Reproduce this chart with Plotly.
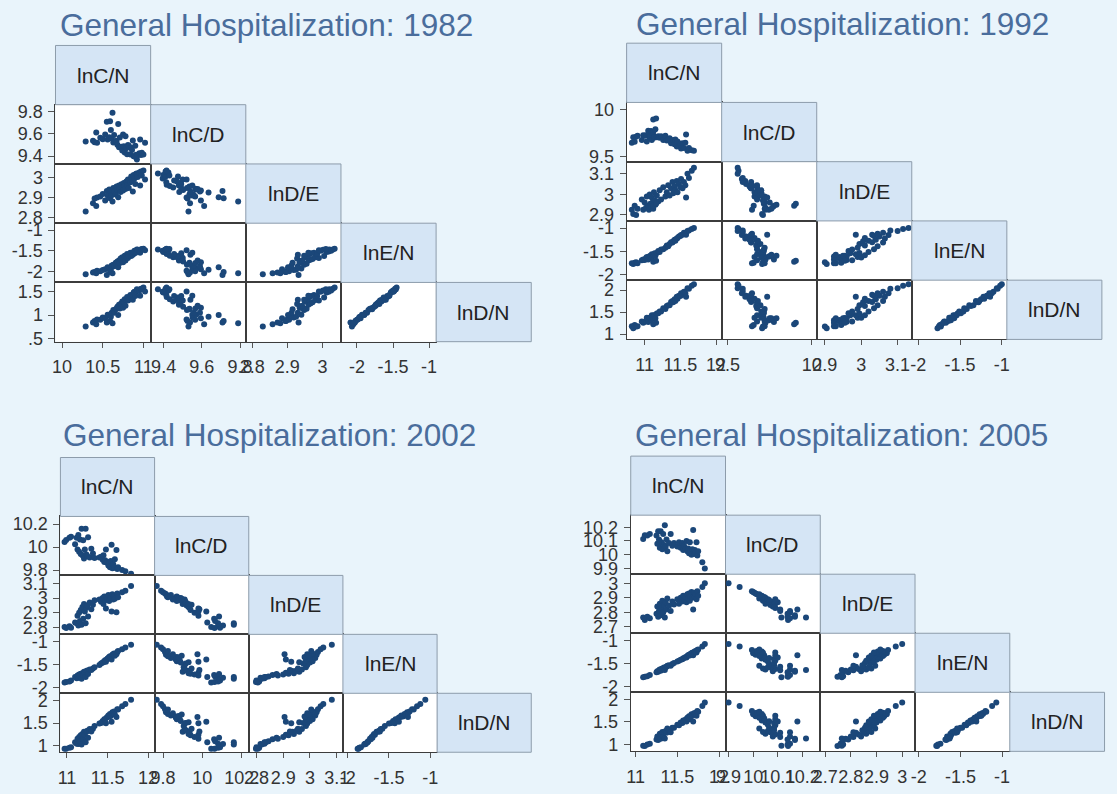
import plotly.graph_objects as go

FIG_W, FIG_H = 1117, 794
VARS = ["lnC/N", "lnC/D", "lnD/E", "lnE/N", "lnD/N"]

# ---- state-level observations, one entry per state ----
# 1982
cn_1982 = [10.29, 10.38, 10.40, 10.42, 10.43, 10.47, 10.50, 10.53, 10.55, 10.56,
           10.58, 10.59, 10.60, 10.61, 10.62, 10.63, 10.64, 10.66, 10.67, 10.68,
           10.69, 10.70, 10.71, 10.72, 10.73, 10.74, 10.75, 10.76, 10.77, 10.78,
           10.79, 10.80, 10.81, 10.82, 10.84, 10.85, 10.86, 10.87, 10.88, 10.89,
           10.90, 10.91, 10.92, 10.93, 10.95, 10.96, 10.97, 10.98, 11.00, 11.02]
de_1982 = [2.830, 2.872, 2.895, 2.858, 2.900, 2.905, 2.918, 2.885, 2.932, 2.910,
           2.940, 2.896, 2.925, 2.912, 2.880, 2.948, 2.930, 2.915, 2.955, 2.938,
           2.902, 2.960, 2.944, 2.928, 2.966, 2.950, 2.935, 2.972, 2.958, 2.942,
           2.980, 2.964, 2.990, 2.948, 2.976, 3.005, 2.985, 2.930, 3.012, 2.995,
           2.968, 3.018, 3.020, 3.002, 3.025, 2.960, 3.030, 3.010, 3.035, 2.990]
en_1982 = [-2.07, -2.03, -2.02, -2.05, -1.99, -2.00, -1.97, -1.95, -2.09, -1.90,
           -1.93, -2.02, -1.96, -1.86, -2.05, -1.84, -1.88, -1.79, -1.82, -1.76,
           -1.90, -1.74, -1.80, -1.69, -1.72, -1.66, -1.78, -1.70, -1.62, -1.74,
           -1.66, -1.58, -1.68, -1.62, -1.55, -1.63, -1.58, -1.60, -1.53, -1.50,
           -1.56, -1.52, -1.47, -1.48, -1.50, -1.55, -1.47, -1.46, -1.45, -1.49]

# 1992
cn_1992 = [10.82, 10.84, 10.86, 10.88, 10.90, 10.96, 10.98, 11.00, 11.02, 11.03,
           11.05, 11.06, 11.07, 11.08, 11.09, 11.10, 11.11, 11.12, 11.13, 11.14,
           11.15, 11.17, 11.19, 11.21, 11.23, 11.26, 11.29, 11.31, 11.33, 11.35,
           11.37, 11.39, 11.40, 11.42, 11.43, 11.45, 11.46, 11.48, 11.50, 11.51,
           11.53, 11.55, 11.57, 11.58, 11.60, 11.62, 11.66, 11.69, 11.12, 11.16]
de_1992 = [2.925, 2.905, 2.945, 2.900, 2.930, 2.975, 2.925, 2.960, 2.935, 2.990,
           2.945, 2.925, 3.000, 2.955, 2.940, 2.985, 2.960, 2.930, 3.010, 2.970,
           2.950, 2.995, 2.965, 3.020, 2.975, 3.035, 2.990, 3.010, 3.045, 2.995,
           3.030, 3.060, 3.005, 3.040, 3.020, 3.065, 3.010, 3.050, 3.035, 3.075,
           3.030, 3.060, 3.045, 2.985, 3.100, 3.080, 3.115, 3.130, 2.945, 2.955]
en_1992 = [-1.75, -1.77, -1.74, -1.73, -1.75, -1.69, -1.67, -1.68, -1.64, -1.62,
           -1.67, -1.61, -1.63, -1.59, -1.62, -1.56, -1.60, -1.57, -1.58, -1.54,
           -1.59, -1.53, -1.49, -1.51, -1.46, -1.45, -1.42, -1.37, -1.39, -1.34,
           -1.30, -1.31, -1.28, -1.25, -1.27, -1.22, -1.21, -1.18, -1.17, -1.15,
           -1.14, -1.10, -1.12, -1.14, -1.06, -1.05, -1.02, -1.00, -1.72, -1.70]

# 2002
cn_2002 = [10.97, 10.99, 11.03, 11.05, 11.10, 11.12, 11.13, 11.14, 11.15, 11.16,
           11.17, 11.18, 11.19, 11.20, 11.21, 11.22, 11.23, 11.24, 11.25, 11.26,
           11.28, 11.30, 11.32, 11.34, 11.40, 11.42, 11.44, 11.45, 11.46, 11.47,
           11.48, 11.49, 11.50, 11.51, 11.52, 11.53, 11.54, 11.55, 11.56, 11.57,
           11.58, 11.59, 11.61, 11.62, 11.63, 11.68, 11.72, 11.79]
de_2002 = [2.805, 2.798, 2.810, 2.800, 2.835, 2.830, 2.880, 2.815, 2.900, 2.845,
           2.920, 2.820, 2.940, 2.860, 2.960, 2.910, 2.830, 2.935, 2.950, 2.875,
           2.970, 2.925, 2.955, 2.985, 2.990, 2.975, 3.000, 2.960, 3.010, 2.985,
           2.930, 3.005, 2.995, 3.020, 2.980, 3.015, 3.000, 2.910, 3.025, 2.990,
           3.010, 2.995, 2.905, 3.030, 3.005, 3.040, 3.050, 3.082]
en_2002 = [-1.88, -1.87, -1.86, -1.84, -1.76, -1.79, -1.73, -1.78, -1.71, -1.75,
           -1.69, -1.80, -1.68, -1.72, -1.65, -1.67, -1.76, -1.63, -1.62, -1.70,
           -1.60, -1.61, -1.58, -1.55, -1.50, -1.47, -1.45, -1.44, -1.42, -1.40,
           -1.43, -1.38, -1.36, -1.35, -1.33, -1.31, -1.34, -1.38, -1.28, -1.27,
           -1.25, -1.30, -1.27, -1.22, -1.20, -1.16, -1.12, -1.06]

# 2005
cn_2005 = [11.09, 11.11, 11.14, 11.17, 11.25, 11.26, 11.27, 11.28, 11.29, 11.30,
           11.31, 11.32, 11.33, 11.34, 11.35, 11.36, 11.37, 11.38, 11.40, 11.42,
           11.44, 11.46, 11.50, 11.52, 11.54, 11.56, 11.57, 11.58, 11.60, 11.61,
           11.62, 11.63, 11.64, 11.65, 11.66, 11.67, 11.68, 11.69, 11.70, 11.71,
           11.72, 11.73, 11.74, 11.75, 11.80, 11.83]
de_2005 = [2.765, 2.748, 2.770, 2.760, 2.790, 2.840, 2.770, 2.810, 2.860, 2.780,
           2.830, 2.880, 2.800, 2.850, 2.765, 2.870, 2.820, 2.895, 2.845, 2.810,
           2.875, 2.855, 2.890, 2.860, 2.900, 2.875, 2.915, 2.885, 2.905, 2.870,
           2.925, 2.895, 2.930, 2.880, 2.910, 2.940, 2.900, 2.820, 2.935, 2.905,
           2.925, 2.890, 2.945, 2.915, 2.975, 3.000]
en_2005 = [-1.79, -1.78, -1.77, -1.74, -1.68, -1.66, -1.67, -1.64, -1.62, -1.65,
           -1.61, -1.60, -1.62, -1.58, -1.63, -1.57, -1.56, -1.54, -1.53, -1.54,
           -1.50, -1.48, -1.45, -1.43, -1.41, -1.40, -1.38, -1.37, -1.35, -1.36,
           -1.33, -1.31, -1.30, -1.32, -1.28, -1.27, -1.26, -1.31, -1.24, -1.23,
           -1.22, -1.25, -1.20, -1.19, -1.12, -1.07]

# ---- axis tick values per variable ----
ticks_1982 = {"lnC/N": [10, 10.5, 11], "lnC/D": [9.4, 9.6, 9.8], "lnD/E": [2.8, 2.9, 3],
              "lnE/N": [-2, -1.5, -1], "lnD/N": [0.5, 1, 1.5]}
ticks_1992 = {"lnC/N": [11, 11.5, 12], "lnC/D": [9.5, 10], "lnD/E": [2.9, 3, 3.1],
              "lnE/N": [-2, -1.5, -1], "lnD/N": [1, 1.5, 2]}
ticks_2002 = {"lnC/N": [11, 11.5, 12], "lnC/D": [9.8, 10, 10.2], "lnD/E": [2.8, 2.9, 3, 3.1],
              "lnE/N": [-2, -1.5, -1], "lnD/N": [1, 1.5, 2]}
ticks_2005 = {"lnC/N": [11, 11.5, 12], "lnC/D": [9.9, 10, 10.1, 10.2], "lnD/E": [2.7, 2.8, 2.9, 3],
              "lnE/N": [-2, -1.5, -1], "lnD/N": [1, 1.5, 2]}


def columns(cn, de, en):
    # ln(D/N) = ln(D/E) + ln(E/N);  ln(C/D) = ln(C/N) - ln(D/N)
    dn = [round(p + q, 3) for p, q in zip(de, en)]
    cd = [round(c - d, 3) for c, d in zip(cn, dn)]
    return [cn, cd, de, en, dn]


def tick_text(v):
    s = f"{v:g}"
    return s[1:] if s.startswith("0.") else s


panels = [
    dict(year=1982, data=columns(cn_1982, de_1982, en_1982), ticks=ticks_1982,
         x0=47.3, y0=103.0, w=96.8, h=60.0, title_xy=(50, 22),
         xr=[[9.919, 11.089], [9.332, 9.830], [2.7815, 3.053], [-2.222, -0.902]],
         yr=[[9.329, 9.862], [2.772, 3.0675], [-2.271, -0.832], [0.437, 1.695]]),
    dict(year=1992, data=columns(cn_1992, de_1992, en_1992), ticks=ticks_1992,
         x0=628.3, y0=100.7, w=96.7, h=60.0, title_xy=(636, 21),
         xr=[[10.747, 12.079], [9.465, 10.029], [2.8776, 3.1389], [-2.078, -0.94]],
         yr=[[9.443, 10.077], [2.871, 3.159], [-2.114, -0.846], [0.879, 2.224]]),
    dict(year=2002, data=columns(cn_2002, de_2002, en_2002), ticks=ticks_2002,
         x0=52.3, y0=520.0, w=95.8, h=59.7, title_xy=(53, 438),
         xr=[[10.919, 12.08], [9.757, 10.236], [2.771, 3.1235], [-2.058, -0.917]],
         yr=[[9.754, 10.266], [2.755, 3.153], [-2.116, -0.837], [0.849, 2.168]]),
    dict(year=2005, data=columns(cn_2005, de_2005, en_2005), ticks=ticks_2005,
         x0=632.5, y0=518.7, w=96.4, h=59.8, title_xy=(635, 438),
         xr=[[10.941, 12.078], [9.8876, 10.273], [2.681, 3.05], [-2.045, -0.908]],
         yr=[[9.858, 10.288], [2.657, 3.062], [-2.116, -0.835], [0.849, 2.158]]),
]

FONT = "Liberation Sans, Arial, sans-serif"
BG = "#e9f4fb"
MARK = "#1b4779"
EDGE = "#3c3c3c"
TICK_FONT = dict(family=FONT, size=18, color="#333333")

fig = go.Figure()
layout = {}
shapes = []
annotations = []


def px_x(v):
    return v / FIG_W


def px_y(v):
    return 1 - v / FIG_H


k = 0
for p in panels:
    x0, y0, w, h = p["x0"], p["y0"], p["w"], p["h"]
    vals = p["data"]
    for r in range(1, 5):
        for c in range(r):
            k += 1
            xa = "xaxis" if k == 1 else f"xaxis{k}"
            ya = "yaxis" if k == 1 else f"yaxis{k}"
            xref = "x" if k == 1 else f"x{k}"
            yref = "y" if k == 1 else f"y{k}"
            fig.add_trace(go.Scatter(
                x=vals[c], y=vals[r], mode="markers", xaxis=xref, yaxis=yref,
                marker=dict(size=6, color=MARK, line=dict(width=0)),
                showlegend=False, hoverinfo="skip"))
            xt = p["ticks"][VARS[c]]
            yt = p["ticks"][VARS[r]]
            bottom = (r == 4)
            left = (c == 0)
            layout[xa] = dict(
                domain=[px_x(x0 + c * w), px_x(x0 + (c + 1) * w)],
                range=p["xr"][c], anchor=yref,
                showline=True, mirror=True, linecolor=EDGE, linewidth=1,
                showgrid=False, zeroline=False, fixedrange=True,
                tickmode="array", tickvals=xt, ticktext=[tick_text(v) for v in xt],
                ticks="outside" if bottom else "", ticklen=5, tickcolor="#555555",
                showticklabels=bottom, tickfont=TICK_FONT, tickangle=0,
                ticklabelstandoff=4)
            layout[ya] = dict(
                domain=[px_y(y0 + r * h), px_y(y0 + (r - 1) * h)],
                range=p["yr"][r - 1], anchor=xref,
                showline=True, mirror=True, linecolor=EDGE, linewidth=1,
                showgrid=False, zeroline=False, fixedrange=True,
                tickmode="array", tickvals=yt, ticktext=[tick_text(v) for v in yt],
                ticks="outside" if left else "", ticklen=6, tickcolor="#555555",
                showticklabels=left, tickfont=TICK_FONT, tickangle=0,
                ticklabelstandoff=2)

    # diagonal label boxes
    for i, name in enumerate(VARS):
        bx0, bx1 = x0 + i * w, x0 + (i + 1) * w
        by0, by1 = y0 + (i - 1) * h, y0 + i * h
        shapes.append(dict(type="rect", xref="paper", yref="paper",
                           x0=px_x(bx0), x1=px_x(bx1), y0=px_y(by1), y1=px_y(by0),
                           fillcolor="#d5e5f5", line=dict(color="#8d9cab", width=1)))
        annotations.append(dict(text=name, xref="paper", yref="paper",
                                x=px_x((bx0 + bx1) / 2), y=px_y((by0 + by1) / 2),
                                xanchor="center", yanchor="middle", showarrow=False,
                                font=dict(family=FONT, size=21, color="#222222")))

    tx, ty = p["title_xy"]
    annotations.append(dict(text=f"General Hospitalization: {p['year']}",
                            xref="paper", yref="paper", x=px_x(tx), y=px_y(ty),
                            xanchor="left", yanchor="middle", showarrow=False,
                            font=dict(family=FONT, size=31.5, color="#4a6d9c")))

fig.update_layout(
    width=FIG_W, height=FIG_H,
    margin=dict(l=0, r=0, t=0, b=0),
    paper_bgcolor=BG, plot_bgcolor="white",
    shapes=shapes, annotations=annotations,
    **layout)

fig.write_html("out.html")
